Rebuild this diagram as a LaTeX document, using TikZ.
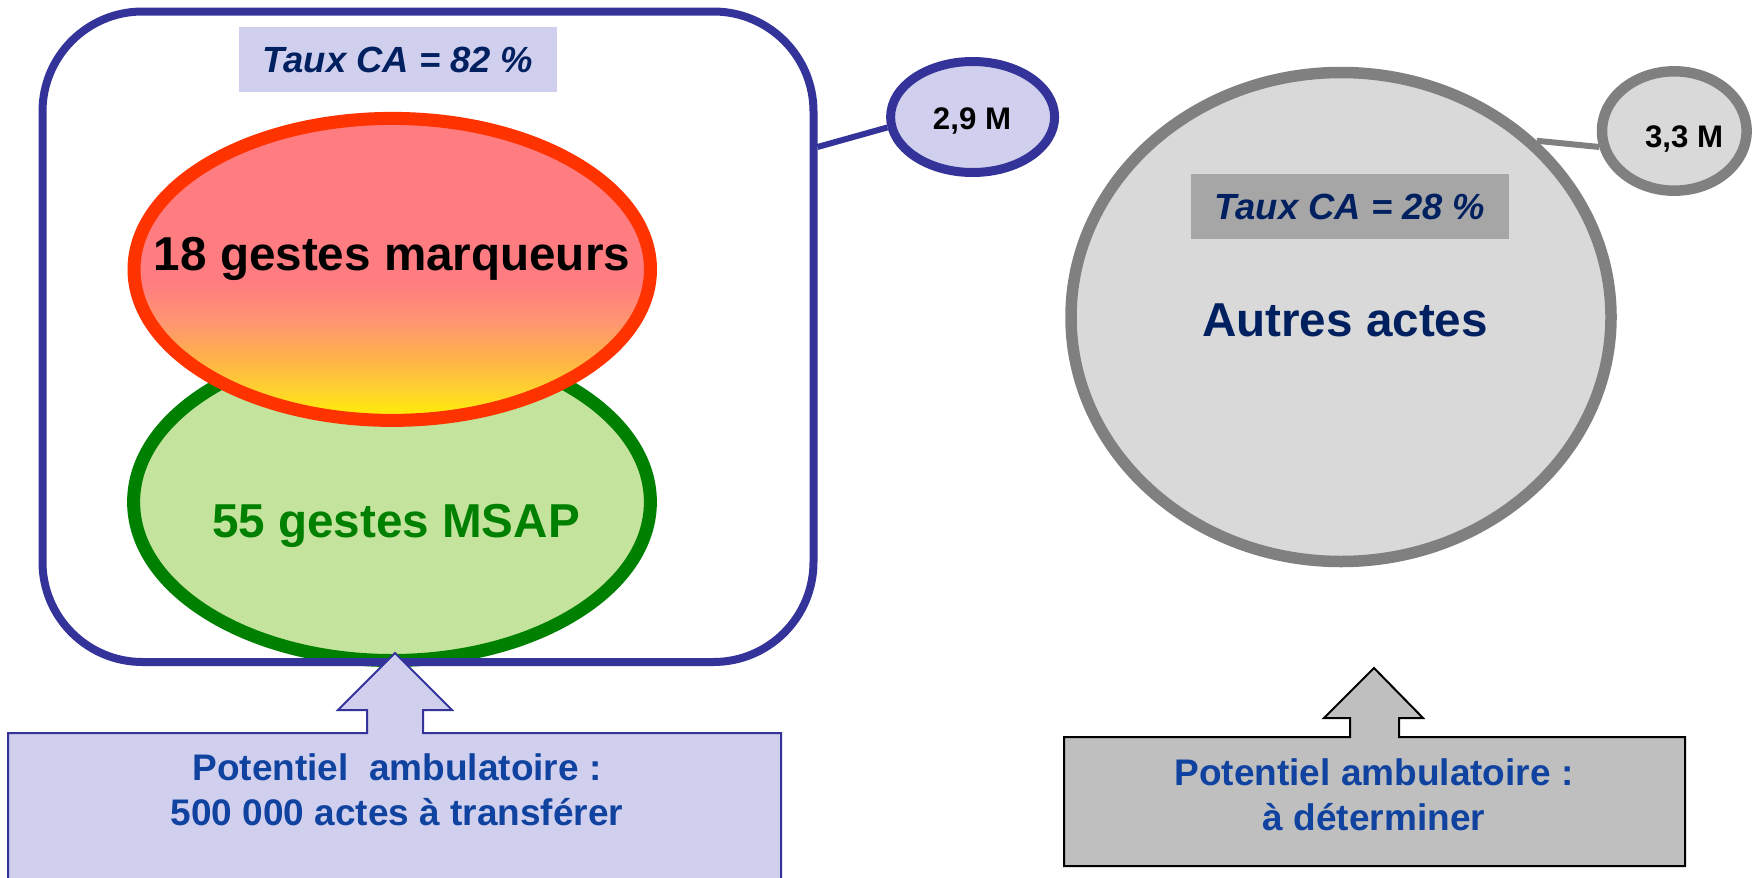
\documentclass[tikz,border=0pt]{standalone}
\usepackage{fontspec}
\setmainfont{Liberation Sans}
\usepackage{tikz}
\usetikzlibrary{shapes.geometric}
\usetikzlibrary{positioning}

\definecolor{cadrebleu}{HTML}{333399}
\definecolor{lavande}{HTML}{D0D0EE}
\definecolor{marine}{HTML}{002060}
\definecolor{bleutexte}{HTML}{1042A0}
\definecolor{rougetrait}{HTML}{FF3300}
\definecolor{rose}{HTML}{FF7C80}
\definecolor{saumon}{HTML}{FF9770}
\definecolor{ambre}{HTML}{FFB347}
\definecolor{dore}{HTML}{FFD22E}
\definecolor{jaune}{HTML}{FFF200}
\definecolor{vertfonce}{HTML}{008000}
\definecolor{vertclair}{HTML}{C4E39C}
\definecolor{grisfonce}{HTML}{808080}
\definecolor{grisclair}{HTML}{D9D9D9}
\definecolor{grismoyen}{HTML}{A6A6A6}
\definecolor{grisboite}{HTML}{BFBFBF}

\pgfdeclareverticalshading{marqueurs}{100bp}{color(0bp)=(jaune); color(25bp)=(jaune);
  color(30bp)=(dore); color(35bp)=(ambre); color(41bp)=(saumon); color(48bp)=(rose);
  color(100bp)=(rose)}

\tikzset{bulle/.style = {ellipse, inner sep=0pt},
         gros/.style = {font=\fontsize{23.8}{28}\selectfont\bfseries},
         taux/.style = {inner sep=0pt, minimum width=159pt, minimum height=32.5pt,
                        text=marine, font=\fontsize{18.2}{22}\selectfont\bfseries\itshape},
         chiffre/.style = {font=\fontsize{15.6}{19}\selectfont\bfseries},
         potentiel/.style = {align=center, text=bleutexte,
                             font=\fontsize{18.5}{22.5}\selectfont\bfseries},
         lien/.style = {line width=3pt}}

\begin{document}
\begin{tikzpicture}[x=0.5pt, y=-0.5pt]
    \useasboundingbox (0,0) rectangle (1756,878);

    % gestes MSAP et marqueurs
    \node [bulle, draw=vertfonce, fill=vertclair, line width=6.5pt,
           minimum width=258.4pt, minimum height=158.5pt] (msap) at (392,502) {};
    \node [bulle, draw=rougetrait, shade, shading=marqueurs, line width=6.5pt,
           minimum width=258.25pt, minimum height=151pt] (marq) at (392.25,269.4) {};
    \node [gros, anchor=base] (marqtxt) at (392,270) {18 gestes marqueurs};
    \node [gros, anchor=base, text=vertfonce] (msaptxt) at (396,537) {55 gestes MSAP};

    \node [draw=cadrebleu, line width=4pt, rounded corners=50pt,
           minimum width=385.5pt, minimum height=325.25pt] (cadre) at (428,336.75) {};
    \node [taux, fill=lavande] (taux1) at (398,59.5) {Taux CA = 82 \%};

    \node [bulle, draw=cadrebleu, fill=lavande, line width=4.5pt,
           minimum width=82pt, minimum height=55.5pt] (bulle1) at (972.6,117) {};
    \node [chiffre, anchor=base] (val1) at (972,129) {2,9 M};
    \draw [lien, cadrebleu] (cadre.east |- 0,147) -- (bulle1.187);

    % autres actes
    \node [bulle, draw=grisfonce, fill=grisclair, line width=5.75pt,
           minimum width=270pt, minimum height=244.5pt] (autres) at (1341,317) {};
    \node [taux, fill=grismoyen] (taux2) at (1350,206.5) {Taux CA = 28 \%};
    \node [gros, anchor=base, text=marine] (autrestxt) at (1345,336.7) {Autres actes};

    \node [bulle, draw=grisfonce, fill=grisclair, line width=5.25pt,
           minimum width=72.3pt, minimum height=59.7pt] (bulle2) at (1674.3,131) {};
    \node [chiffre, anchor=base] (val2) at (1684,147) {3,3 M};
    \draw [lien, grisfonce] (autres.42) -- (bulle2.192);

    % boites du bas, fleche comprise (base = derniere ligne)
    \draw [line width=1pt, draw=cadrebleu, fill=lavande] (8,890) -- (8,733) -- (367,733)
      -- (367,710) -- (338,710) -- (395,653) -- (452,710) -- (423,710) -- (423,733)
      -- (781,733) -- (781,890);
    \node [potentiel, anchor=base] (pot1) at (397,825)
      {Potentiel \ ambulatoire :\\500 000 actes à transférer};

    \draw [line width=1pt, fill=grisboite] (1064,737) -- (1350,737) -- (1350,718)
      -- (1324,718) -- (1374,668) -- (1423,718) -- (1399,718) -- (1399,737)
      -- (1685,737) -- (1685,866) -- (1064,866) -- cycle;
    \node [potentiel, anchor=base] (pot2) at (1374,830)
      {Potentiel ambulatoire :\\à déterminer};
\end{tikzpicture}
\end{document}
